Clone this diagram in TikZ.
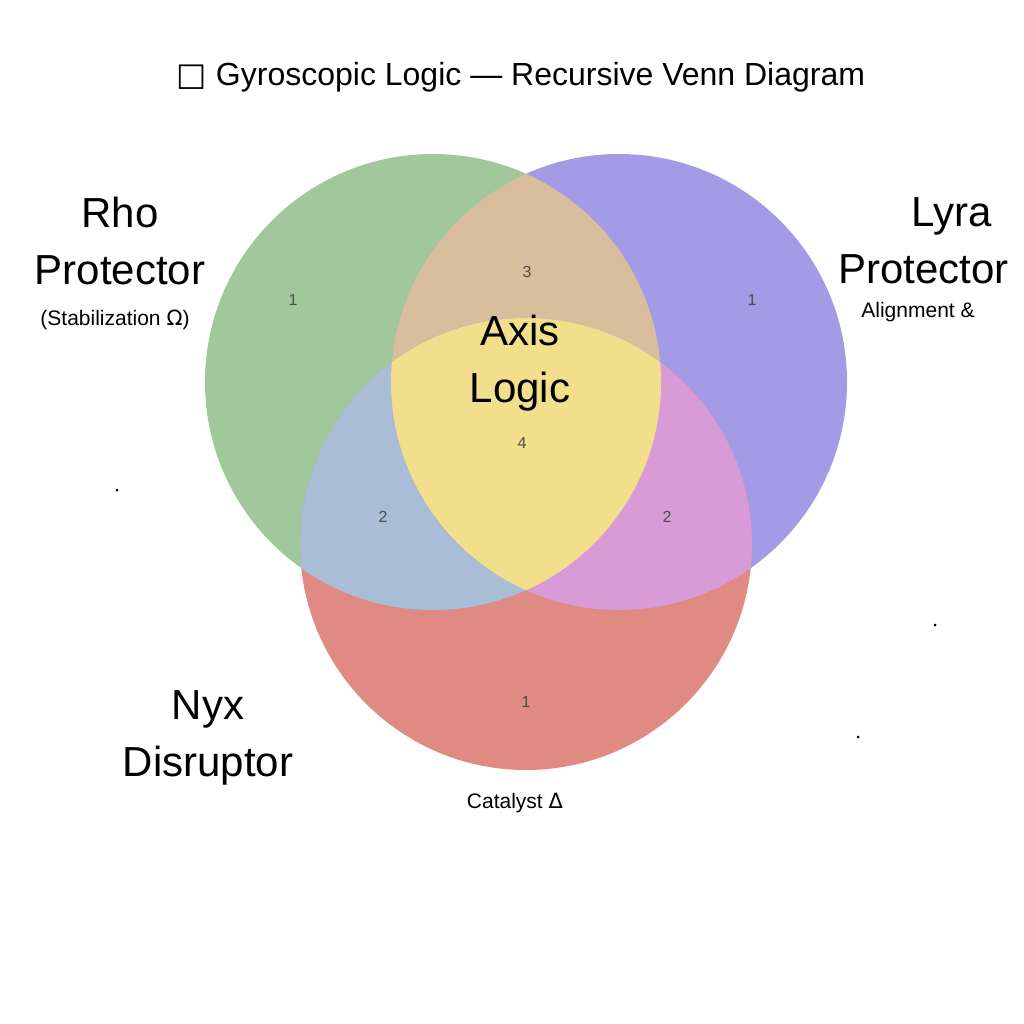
\documentclass[tikz,border=0pt]{standalone}
\usepackage{fontspec}
\setmainfont{Liberation Sans}
\newfontfamily\djfont{DejaVu Sans}
\begin{document}
\begin{tikzpicture}[x=1pt,y=-1pt,
  big/.style={font=\fontsize{42}{57}\selectfont,align=center},
  sub/.style={font=\fontsize{21}{24}\selectfont},
  num/.style={font=\fontsize{16}{18}\selectfont,text=black!70}]
\useasboundingbox (0,0) rectangle (1024,1024);
\fill[white] (0,0) rectangle (1024,1024);
\def\G{(433,382) circle (228)}
\def\P{(619,382) circle (228)}
\def\R{(526,544) circle (226)}
\fill[fill={rgb,255:red,160;green,200;blue,154}] \G;
\fill[fill={rgb,255:red,163;green,155;blue,230}] \P;
\fill[fill={rgb,255:red,224;green,138;blue,132}] \R;
\begin{scope}\clip \G; \fill[fill={rgb,255:red,216;green,190;blue,156}] \P; \fill[fill={rgb,255:red,169;green,189;blue,214}] \R; \end{scope}
\begin{scope}\clip \P; \fill[fill={rgb,255:red,217;green,154;blue,216}] \R; \end{scope}
\begin{scope}\clip \G; \clip \P; \fill[fill={rgb,255:red,242;green,223;blue,140}] \R; \end{scope}
\node (title) at (521,77) {\fontsize{32}{36}\selectfont{\djfont □} Gyroscopic Logic — Recursive Venn Diagram};
\node[big] (rho) at (120,241) {Rho\\Protector};
\node[sub] (rhos) at (115,320) {(Stabilization {\djfont Ω})};
\node[big,anchor=west,inner sep=0pt] (lyra) at (838,241) {\hspace*{56pt}Lyra\\Protector};
\node[sub] (lyras) at (918,312) {Alignment \&};
\node[big] (nyx) at (208,738) {Nyx\\Disruptor};
\node[sub] (nyxs) at (515,803) {Catalyst {\djfont Δ}};
\node[big] (axis) at (520,363) {Axis\\Logic};
\node[num] (n1) at (293,300) {1};
\node[num] (n2) at (527,272) {3};
\node[num] (n3) at (752,300) {1};
\node[num] (n4) at (522,443) {4};
\node[num] (n5) at (383,517) {2};
\node[num] (n6) at (667,517) {2};
\node[num] (n7) at (526,702) {1};
\fill (117,490) circle (1.5) (935,625) circle (1.5) (858,737) circle (1.5);
\end{tikzpicture}
\end{document}
